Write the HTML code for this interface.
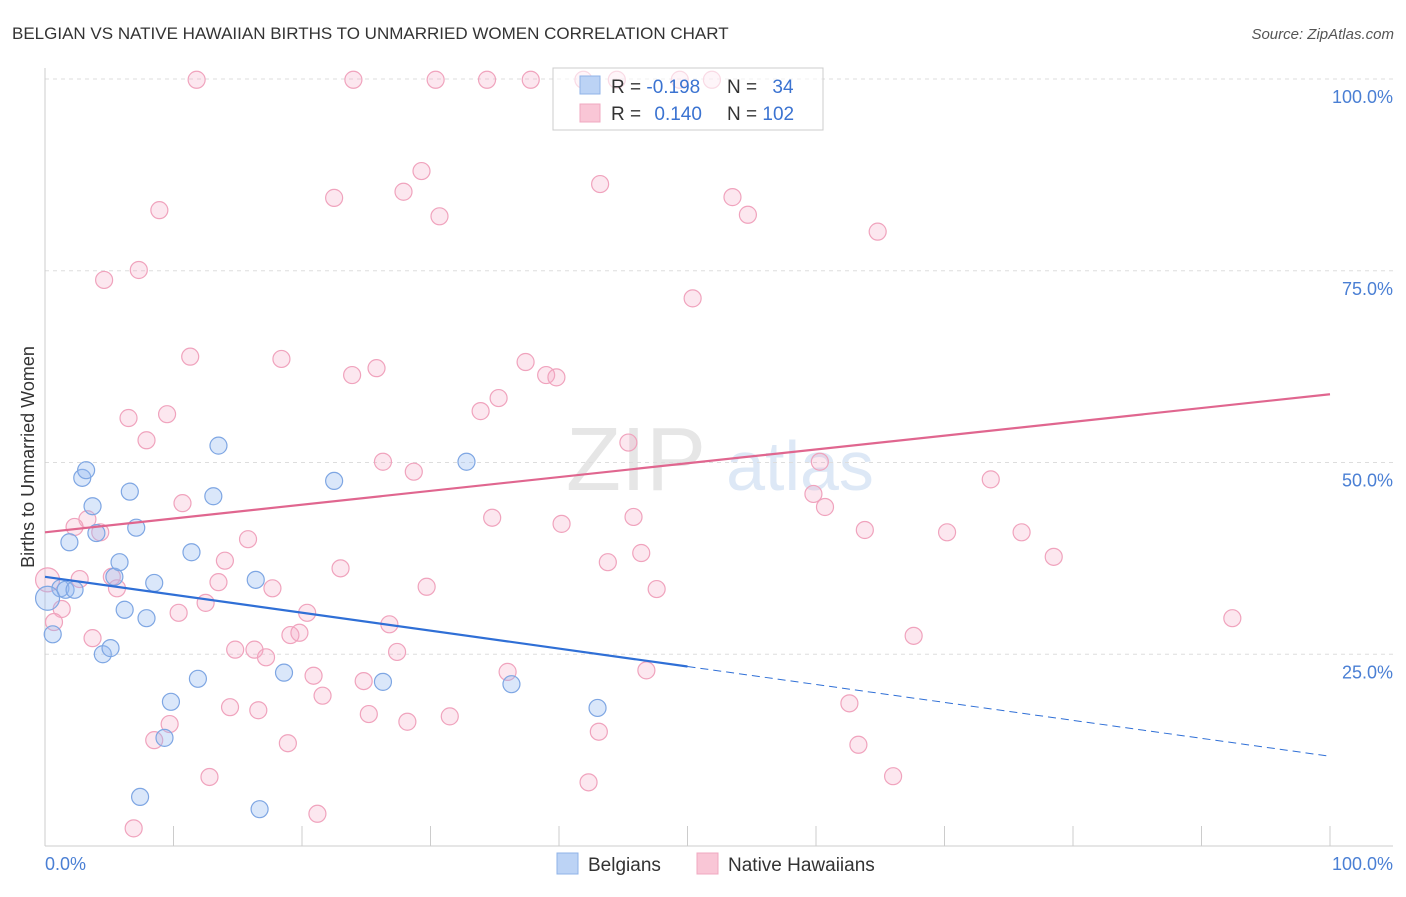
<!DOCTYPE html>
<html><head><meta charset="utf-8"><style>
body{margin:0;background:#fff;font-family:"Liberation Sans",sans-serif}
svg text{font-family:"Liberation Sans",sans-serif}
</style></head><body>
<svg id="chart" width="1406" height="892" xmlns="http://www.w3.org/2000/svg">
<text x="12" y="39" font-size="17" fill="#333">BELGIAN VS NATIVE HAWAIIAN BIRTHS TO UNMARRIED WOMEN CORRELATION CHART</text>
<text x="1394" y="39" font-size="15" fill="#555" text-anchor="end" font-style="italic">Source: ZipAtlas.com</text>
<text x="636" y="490" font-size="90" fill="#e6e6e6" text-anchor="middle" font-family="Liberation Serif">ZIP</text>
<text x="800" y="490" font-size="70" fill="#dde8f6" text-anchor="middle">atlas</text>
<g id="grid"></g>
<g id="axes"></g>
<g id="marks"></g>
<text transform="translate(34,457) rotate(-90)" font-size="18" fill="#333" text-anchor="middle">Births to Unmarried Women</text>
<text x="45" y="870" font-size="18" fill="#4a7fd4">0.0%</text>
<text x="1393" y="870" font-size="18" fill="#4a7fd4" text-anchor="end">100.0%</text>
<g>
<rect x="553" y="68" width="270" height="62" fill="rgba(255,255,255,0.6)" stroke="#ccc"/>
<rect x="580" y="76" width="20" height="18" fill="#bcd3f5" stroke="#8fb3e8"/>
<rect x="580" y="104" width="20" height="18" fill="#f9c6d6" stroke="#f0a8c0"/>
<text x="611" y="93" font-size="19" fill="#333">R = <tspan fill="#3b73d1">-0.198</tspan></text>
<text x="727" y="93" font-size="19" fill="#333">N = <tspan fill="#3b73d1" dx="10">34</tspan></text>
<text x="611" y="120" font-size="19" fill="#333">R = <tspan fill="#3b73d1" dx="8">0.140</tspan></text>
<text x="727" y="120" font-size="19" fill="#333">N = <tspan fill="#3b73d1">102</tspan></text>
</g>
<g>
<rect x="557" y="853" width="21" height="21" fill="#bcd3f5" stroke="#8fb3e8"/>
<text x="588" y="871" font-size="19" fill="#333">Belgians</text>
<rect x="697" y="853" width="21" height="21" fill="#f9c6d6" stroke="#f0a8c0"/>
<text x="728" y="871" font-size="19" fill="#333">Native Hawaiians</text>
</g>
</svg>
<script>
const yTicks=[100,75,50,25];
const yTickLabels=["100.0%","75.0%","50.0%","25.0%"];
const xTicks=[0,10,20,30,40,50,60,70,80,90,100];
const belgX=[0.6,1.9,2.9,3.2,3.7,4.0,4.5,5.1,5.4,5.8,6.2,6.6,7.1,7.4,7.9,8.5,9.3,9.8,11.4,11.9,13.1,13.5,16.4,16.7,18.6,22.5,26.3,32.8,36.3,43.0,1.2,1.6,2.3,0.2];
const belgY=[27.6,39.6,48.0,49.0,44.3,40.8,25.0,25.8,35.1,37.0,30.8,46.2,41.5,6.4,29.7,34.3,14.1,18.8,38.3,21.8,45.6,52.2,34.7,4.8,22.6,47.6,21.4,50.1,21.1,18.0,33.6,33.4,33.4,32.3];
const hawX=[11.8,24.0,30.4,34.4,37.8,41.9,44.5,49.4,51.9,29.3,27.9,22.5,43.2,53.5,54.7,30.7,8.9,64.8,7.3,4.6,50.4,11.3,18.4,37.4,25.8,23.9,39.0,39.8,35.3,33.9,6.5,9.5,7.9,45.4,26.3,60.3,28.7,73.6,59.8,10.7,60.7,34.8,45.8,40.2,3.3,2.3,4.3,63.8,70.2,76.0,15.8,46.4,78.5,14.0,43.8,23.0,5.2,2.7,13.5,5.6,17.7,29.7,47.6,0.2,1.3,12.5,10.4,20.4,0.7,26.8,92.4,3.7,19.1,19.8,67.6,14.8,16.3,17.2,27.4,36.0,46.8,20.9,24.8,21.6,14.4,16.6,25.2,31.5,28.2,9.7,62.6,43.1,8.5,18.9,63.3,12.8,66.0,42.3,21.2,6.9];
const hawY=[99.9,99.9,99.9,99.9,99.9,99.9,99.9,99.9,99.9,88.0,85.3,84.5,86.3,84.6,82.3,82.1,82.9,80.1,75.1,73.8,71.4,63.8,63.5,63.1,62.3,61.4,61.4,61.1,58.4,56.7,55.8,56.3,52.9,52.6,50.1,50.1,48.8,47.8,45.9,44.7,44.2,42.8,42.9,42.0,42.6,41.6,40.9,41.2,40.9,40.9,40.0,38.2,37.7,37.2,37.0,36.2,35.1,34.8,34.4,33.6,33.6,33.8,33.5,34.7,30.9,31.7,30.4,30.4,29.2,28.9,29.7,27.1,27.5,27.8,27.4,25.6,25.6,24.6,25.3,22.7,22.9,22.2,21.5,19.6,18.1,17.7,17.2,16.9,16.2,15.9,18.6,14.9,13.8,13.4,13.2,9.0,9.1,8.3,4.2,2.3];
const belgTrend=[35.1,11.7];
const belgSolidEnd=50;
const hawTrend=[40.9,58.9];

const X=v=>45+v*12.85, Y=v=>846-v*7.67;
const NS="http://www.w3.org/2000/svg";
function mk(p,t,a){const e=document.createElementNS(NS,t);for(const k in a)e.setAttribute(k,a[k]);p.appendChild(e);return e;}
const grid=document.getElementById('grid'),axes=document.getElementById('axes'),marks=document.getElementById('marks');
yTicks.forEach((t,i)=>{
 const l=mk(grid,'line',{x1:45,x2:1393,y1:Y(t),y2:Y(t),stroke:'#ddd','stroke-dasharray':'4,4'});
 
 
 const tx=mk(grid,'text',{x:1393,y:Y(t)+24,'font-size':18,fill:'#4a7fd4','text-anchor':'end'});
 tx.textContent=yTickLabels[i];
 
 
});
let a1=mk(axes,'line',{x1:45,x2:45,y1:68,y2:846,stroke:'#ccc'});


let a2=mk(axes,'line',{x1:45,x2:1393,y1:846,y2:846,stroke:'#ccc'});


xTicks.forEach(t=>{const l=mk(axes,'line',{x1:X(t),x2:X(t),y1:826,y2:846,stroke:'#ccc'});
 
 });
function dots(xs,ys,fill,stroke,name){xs.forEach((x,i)=>{
 const big=(x<0.5);
 const c=mk(marks,'circle',{cx:X(x),cy:Y(ys[i]),r:big?12:8.5,fill:fill,stroke:stroke,'stroke-width':1.2});
 
 });}
dots(hawX,hawY,'rgba(244,170,196,0.28)','#f0a3bd','point-native-hawaiian');
dots(belgX,belgY,'rgba(150,185,240,0.35)','#7ea6e3','point-belgian');
const by=v=>belgTrend[0]+(belgTrend[1]-belgTrend[0])*v/100;
let t1=mk(marks,'line',{x1:X(0),y1:Y(by(0)),x2:X(belgSolidEnd),y2:Y(by(belgSolidEnd)),stroke:'#2f6fd6','stroke-width':2.2});


let t2=mk(marks,'line',{x1:X(belgSolidEnd),y1:Y(by(belgSolidEnd)),x2:X(100),y2:Y(by(100)),stroke:'#2f6fd6','stroke-width':1,'stroke-dasharray':'8,5'});


let t3=mk(marks,'line',{x1:X(0),y1:Y(hawTrend[0]),x2:X(100),y2:Y(hawTrend[1]),stroke:'#e0668f','stroke-width':2.2});


</script>
</body></html>
